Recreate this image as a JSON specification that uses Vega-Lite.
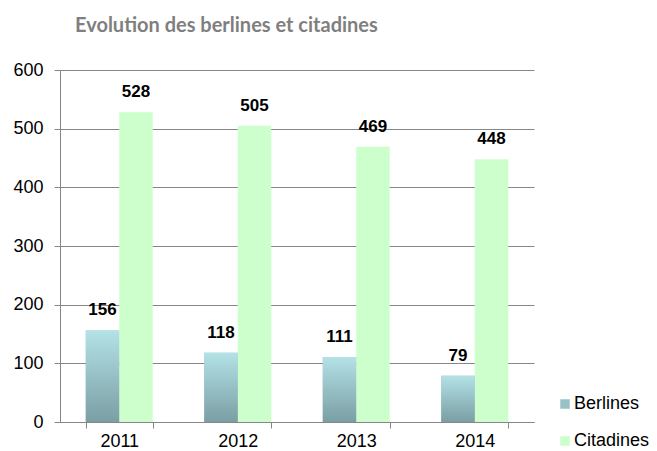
{
  "$schema": "https://vega.github.io/schema/vega-lite/v6.json",
  "autosize": {"type": "none"},
  "width": 474,
  "height": 352,
  "padding": {"left": 60, "top": 70, "right": 123, "bottom": 29},
  "background": "white",
  "title": {
    "text": "Evolution des berlines et citadines",
    "anchor": "start",
    "frame": "group",
    "dx": 15,
    "offset": 9,
    "baseline": "alphabetic",
    "font": "Lato",
    "fontSize": 20,
    "fontWeight": "bold",
    "color": "#7f7f7f"
  },
  "data": {
    "values": [
      {"year": "2011", "serie": "Berlines", "value": 156},
      {"year": "2011", "serie": "Citadines", "value": 528},
      {"year": "2012", "serie": "Berlines", "value": 118},
      {"year": "2012", "serie": "Citadines", "value": 505},
      {"year": "2013", "serie": "Berlines", "value": 111},
      {"year": "2013", "serie": "Citadines", "value": 469},
      {"year": "2014", "serie": "Berlines", "value": 79},
      {"year": "2014", "serie": "Citadines", "value": 448}
    ]
  },
  "encoding": {
    "x": {
      "field": "year", "type": "nominal",
      "scale": {"paddingInner": 0.435, "paddingOuter": 0.2175},
      "axis": {
        "title": null, "labelAngle": 0, "tickBand": "extent",
        "labelFont": "Liberation Sans", "labelFontSize": 18, "labelColor": "#000000",
        "labelPadding": 4, "tickSize": 6, "tickColor": "#868686", "domainColor": "#868686"
      }
    },
    "xOffset": {"field": "serie", "type": "nominal", "scale": {"domain": ["Berlines", "Citadines"], "padding": 0}},
    "y": {
      "field": "value", "type": "quantitative",
      "scale": {"domain": [0, 600]},
      "axis": {
        "title": null, "values": [0, 100, 200, 300, 400, 500, 600],
        "labelFont": "Liberation Sans", "labelFontSize": 18, "labelColor": "#000000",
        "labelPadding": 11, "tickSize": 6, "tickColor": "#868686", "domainColor": "#868686",
        "gridColor": "#868686", "gridWidth": 1
      }
    }
  },
  "layer": [
    {
      "mark": {"type": "bar"},
      "encoding": {
        "color": {
          "field": "serie", "type": "nominal",
          "scale": {"domain": ["Berlines", "Citadines"], "range": ["#98c2c7", "#ccffcc"]},
          "legend": {
            "title": null, "orient": "none", "legendX": 496, "legendY": 325,
            "symbolType": "square", "symbolSize": 90, "symbolStrokeWidth": 0,
            "labelFont": "Liberation Sans", "labelFontSize": 18, "labelColor": "#000000",
            "rowPadding": 19, "labelOffset": 0
          }
        }
      }
    },
    {
      "transform": [{"filter": "datum.serie === 'Berlines'"}],
      "mark": {
        "type": "bar",
        "color": {"gradient": "linear", "x1": 0, "y1": 0, "x2": 0, "y2": 1,
          "stops": [{"offset": 0, "color": "#b3e2e7"}, {"offset": 1, "color": "#7a9ea3"}]}
      }
    },
    {
      "mark": {"type": "text", "baseline": "alphabetic", "dy": -15, "font": "Liberation Sans", "fontSize": 17, "fontWeight": "bold", "color": "#000000"},
      "encoding": {"text": {"field": "value", "type": "quantitative"}}
    }
  ],
  "config": {"view": {"stroke": null}}
}
